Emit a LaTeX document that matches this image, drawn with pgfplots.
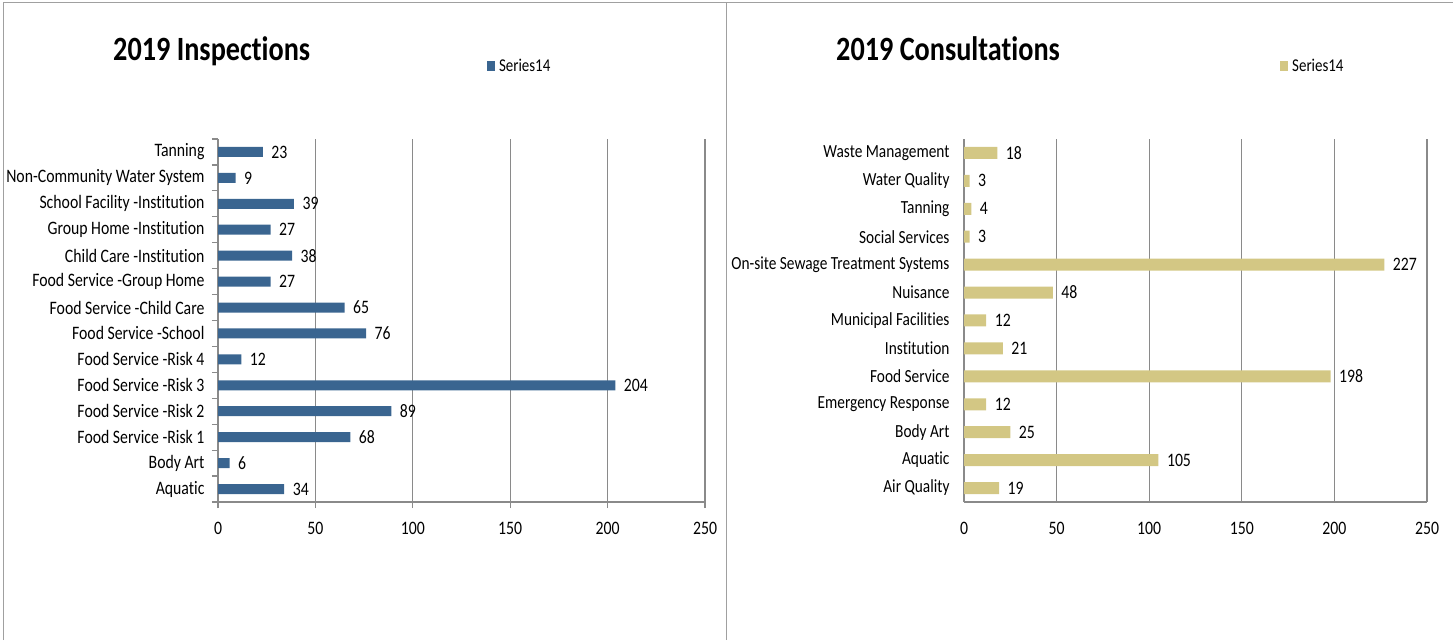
\documentclass[border=0pt]{standalone}
\usepackage{pgfplots}
\pgfplotsset{compat=1.18}
\usepackage{fontspec}
\setmainfont{Carlito}[FakeStretch=0.83, Ligatures={NoCommon,NoRare}]
\definecolor{insp}{HTML}{3A6590}
\definecolor{cons}{HTML}{D3C784}
\definecolor{axgray}{HTML}{8A8A8A}
\definecolor{framegray}{HTML}{A0A0A0}

\pgfplotsset{
  excelbar/.style={
    xbar, scale only axis,
    xmin=0, xmax=250, xtick={0,50,...,250},
    /pgf/number format/assume math mode=true,
    axis x line*=bottom, axis y line*=left,
    axis line style={axgray, line width=1.2pt},
    xmajorgrids, grid style={axgray, line width=1.2pt},
    tick style={axgray, line width=1.2pt},
    y tick label as interval,
    tick label style={font=\fontsize{19}{21}\selectfont, black},
    nodes near coords,
    nodes near coords style={font=\fontsize{19}{21}\selectfont, black, anchor=west, xshift=5pt},
    legend image code/.code={\fill[#1] (0pt,-5pt) rectangle (8pt,5pt);},
    legend style={draw=none, fill=none, inner sep=0pt, anchor=west,
      font=\fontsize{18}{20}\selectfont, column sep=2pt},
  },
}

\begin{document}
\begin{tikzpicture}
\path[use as bounding box] (0,0) rectangle (1453pt,640pt);
\draw[framegray, line width=1pt] (3pt,0) -- (3pt,637pt) -- (1453pt,637pt);
\draw[framegray, line width=1pt] (726pt,0) -- (726pt,637pt);

\node[anchor=base west, inner sep=0pt, font=\fontsize{34}{36}\bfseries\selectfont] at (113pt,579pt) {2019 Inspections};
\node[anchor=base west, inner sep=0pt, font=\fontsize{34}{36}\bfseries\selectfont] at (836pt,579pt) {2019 Consultations};

% left: inspections
\begin{axis}[excelbar,
  at={(218pt,138pt)}, anchor=south west,
  width=487pt, height=363pt,
  bar width=10pt,
  ymin=-0.5, ymax=13.5,
  ytick={-0.5,0.5,...,13.5},
  yticklabels={Aquatic, Body Art, Food Service -Risk 1, Food Service -Risk 2,
    Food Service -Risk 3, Food Service -Risk 4, Food Service -School,
    Food Service -Child Care, Food Service -Group Home, Child Care -Institution,
    Group Home -Institution, School Facility -Institution,
    Non-Community Water System, Tanning\ },
  tick align=outside, major tick length=6pt,
  yticklabel style={xshift=-4pt},
  xticklabel style={yshift=-11pt},
  legend style={at={(0.552,1.201)}},
]
\addplot[fill=insp, draw=none] coordinates {
  (34,0) (6,1) (68,2) (89,3) (204,4) (12,5) (76,6)
  (65,7) (27,8) (38,9) (27,10) (39,11) (9,12) (23,13)
};
\addlegendentry{Series14}
\end{axis}

% right: consultations
\begin{axis}[excelbar,
  at={(964pt,138pt)}, anchor=south west,
  width=463pt, height=363pt,
  bar width=12pt,
  ymin=-0.5, ymax=12.5,
  ytick={-0.5,0.5,...,12.5},
  yticklabels={Air Quality, Aquatic, Body Art, Emergency Response, Food Service,
    Institution, Municipal Facilities, Nuisance, On-site Sewage Treatment Systems,
    Social Services, Tanning, Water Quality, Waste Management},
  major tick length=0pt,
  yticklabel style={xshift=-11pt, font=\fontsize{18.5}{21}\selectfont},
  xticklabel style={yshift=-17pt},
  legend style={at={(0.6825,1.20)}},
]
\addplot[fill=cons, draw=none] coordinates {
  (19,0) (105,1) (25,2) (12,3) (198,4) (21,5) (12,6)
  (48,7) (227,8) (3,9) (4,10) (3,11) (18,12)
};
\addlegendentry{Series14}
\end{axis}
\end{tikzpicture}
\end{document}
